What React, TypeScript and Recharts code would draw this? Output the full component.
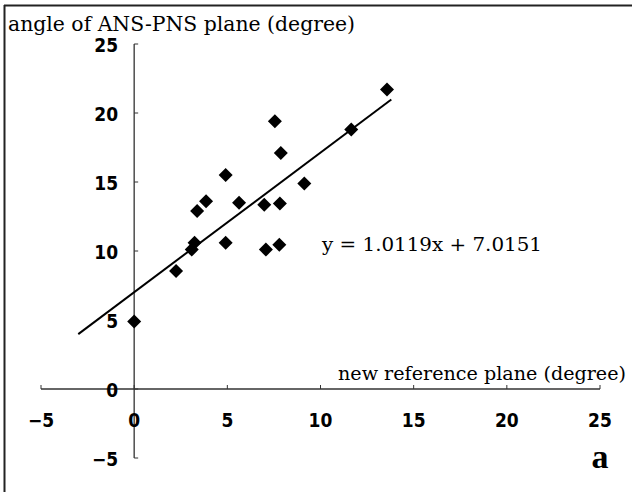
import { ScatterChart, Scatter, XAxis, YAxis, ReferenceLine } from 'recharts';

const xValues = [0, 2.25, 3.09, 3.24, 3.38, 3.86, 4.91, 4.91, 5.63, 6.98, 7.07, 7.55, 7.79, 7.82, 7.87, 9.13, 11.65, 13.57];
const yValues = [4.9, 8.55, 10.1, 10.6, 12.9, 13.6, 15.5, 10.6, 13.5, 13.35, 10.1, 19.4, 10.45, 13.45, 17.1, 14.9, 18.8, 21.7];

const slope = 1.0119;
const intercept = 7.0151;
const trendX = [-3, 13.8];

const xTicks = [-5, 0, 5, 10, 15, 20, 25];
const yTicks = [-5, 0, 5, 10, 15, 20, 25];

const points = xValues.map((x, i) => ({ x, y: yValues[i] }));
const trend = trendX.map((x) => ({ x, y: slope * x + intercept }));
const xTickData = xTicks.map((v) => ({ x: v, y: 0, label: String(v).replace('-', '\u2212') }));
const yTickData = yTicks.map((v) => ({ x: 0, y: v, label: String(v).replace('-', '\u2212') }));

const tickFont = {
  fontFamily: '"DejaVu Sans Condensed", "DejaVu Sans", sans-serif',
  fontWeight: 700,
  fontSize: 19,
  fill: '#000',
};

const Diamond = (props: any) => {
  const { cx, cy } = props;
  const r = 7;
  return <polygon points={`${cx},${cy - r} ${cx + r},${cy} ${cx},${cy + r} ${cx - r},${cy}`} fill="#000" />;
};

const XTick = (props: any) => {
  const { cx, cy, payload } = props;
  return (
    <g>
      <line x1={cx} y1={cy} x2={cx} y2={cy - 4} stroke="#333" strokeWidth={1} />
      <text x={cx} y={cy + 31} textAnchor="middle" dominantBaseline="central" style={tickFont}>
        {payload.label}
      </text>
    </g>
  );
};

const YTick = (props: any) => {
  const { cx, cy, payload } = props;
  return (
    <g>
      <line x1={cx} y1={cy} x2={cx + 4} y2={cy} stroke="#333" strokeWidth={1} />
      <text x={cx - 16} y={cy + 1} textAnchor="end" dominantBaseline="central" style={tickFont}>
        {payload.label}
      </text>
    </g>
  );
};

const serif = '"DejaVu Serif", "Liberation Serif", serif';

export default function App() {
  return (
    <div style={{ position: 'absolute', left: 0, top: 0, width: 632, height: 492, background: '#fff' }}>
      <ScatterChart width={632} height={492} margin={{ top: 44, right: 32, bottom: 34, left: 41 }}>
        <XAxis type="number" dataKey="x" domain={[-5, 25]} hide />
        <YAxis type="number" dataKey="y" domain={[-5, 25]} hide />
        <ReferenceLine y={0} stroke="#333" strokeWidth={1.3} />
        <ReferenceLine x={0} stroke="#333" strokeWidth={1.3} />
        <Scatter data={xTickData} shape={XTick} isAnimationActive={false} />
        <Scatter data={yTickData} shape={YTick} isAnimationActive={false} />
        <Scatter
          data={trend}
          line={{ stroke: '#000', strokeWidth: 2 }}
          shape={() => null}
          isAnimationActive={false}
        />
        <Scatter data={points} shape={Diamond} isAnimationActive={false} />
      </ScatterChart>
      <svg width={632} height={492} style={{ position: 'absolute', left: 0, top: 0, pointerEvents: 'none' }}>
        <line x1={4} y1={5.5} x2={632} y2={5.5} stroke="#222" strokeWidth={2} />
        <line x1={4.5} y1={5} x2={4.5} y2={492} stroke="#222" strokeWidth={2} />
        <text x={8} y={31} fontFamily={serif} fontSize={20} textLength={347} lengthAdjust="spacingAndGlyphs" fill="#000">
          angle of ANS-PNS plane (degree)
        </text>
        <text x={338} y={380} fontFamily={serif} fontSize={19} textLength={288} lengthAdjust="spacingAndGlyphs" fill="#000">
          new reference plane (degree)
        </text>
        <text x={322} y={251} fontFamily={serif} fontSize={19} textLength={220} lengthAdjust="spacingAndGlyphs" fill="#000">
          y = 1.0119x + 7.0151
        </text>
        <text x={600} y={468} textAnchor="middle" fontFamily='"Liberation Serif", serif' fontWeight={700} fontSize={34} fill="#000">
          a
        </text>
      </svg>
    </div>
  );
}
